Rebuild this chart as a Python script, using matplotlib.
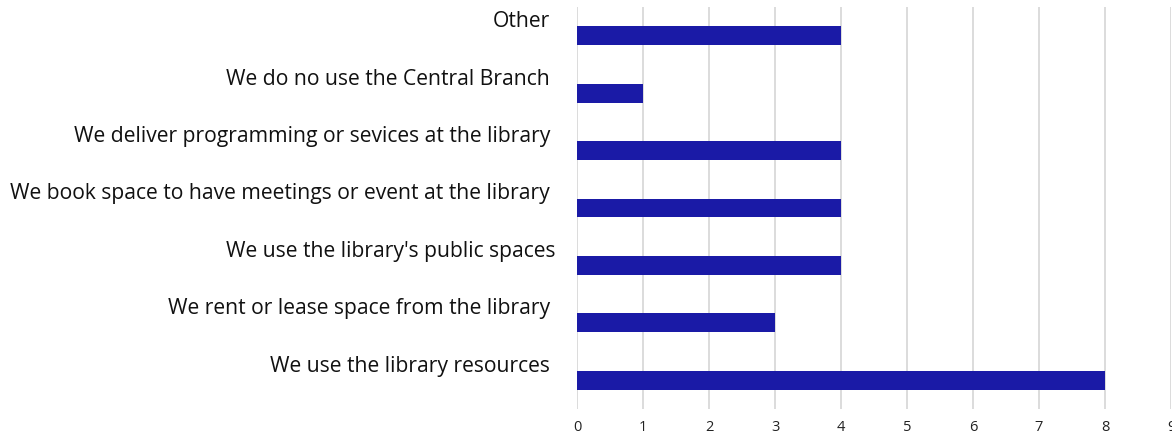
import matplotlib
matplotlib.use('Agg')
from matplotlib import pyplot as plt
from matplotlib import transforms

# categories top to bottom
categories = [
    'Other',
    'We do no use the Central Branch',
    'We deliver programming or sevices at the library',
    'We book space to have meetings or event at the library',
    "We use the library's public spaces",
    'We rent or lease space from the library',
    'We use the library resources',
]
counts = [4, 1, 4, 4, 4, 3, 8]
# horizontal offset of label's right edge from axis, px (the source is uneven)
label_gap = [27, 27, 27, 27, 21, 27, 27]
x_ticks = list(range(10))

bar_color = '#1a1aa6'
grid_color = '#d9d9d9'

plt.rcParams['font.family'] = ['Open Sans', 'DejaVu Sans']


def make_graph():
    fig = plt.figure(figsize=(11.72, 4.35), dpi=100)
    ax = fig.add_axes([577 / 1172, 1 - 410 / 435, 594 / 1172, 402 / 435])
    y = range(len(categories))
    ax.barh(y, counts, height=0.33, color=bar_color, zorder=3)
    ax.set_xlim(0, 9)
    ax.set_ylim(len(categories) - 0.5, -0.5)
    ax.set_xticks(x_ticks)
    ax.set_xticklabels([str(t) for t in x_ticks])
    ax.set_yticks([])
    for s in ax.spines.values():
        s.set_visible(False)
    ax.grid(axis='x', color=grid_color, linewidth=1.3, zorder=0)
    ax.tick_params(axis='x', length=0, pad=7, labelsize=10.5, colors='#222222')

    for i, name in enumerate(categories):
        off = transforms.offset_copy(ax.get_yaxis_transform(), fig=fig,
                                     x=-label_gap[i], y=15, units='dots')
        ax.text(0, i, name, transform=off, ha='right', va='center',
                fontsize=15.2, color='#111111')

    fig.savefig('out.png', dpi=100)


if __name__ == '__main__':
    make_graph()
